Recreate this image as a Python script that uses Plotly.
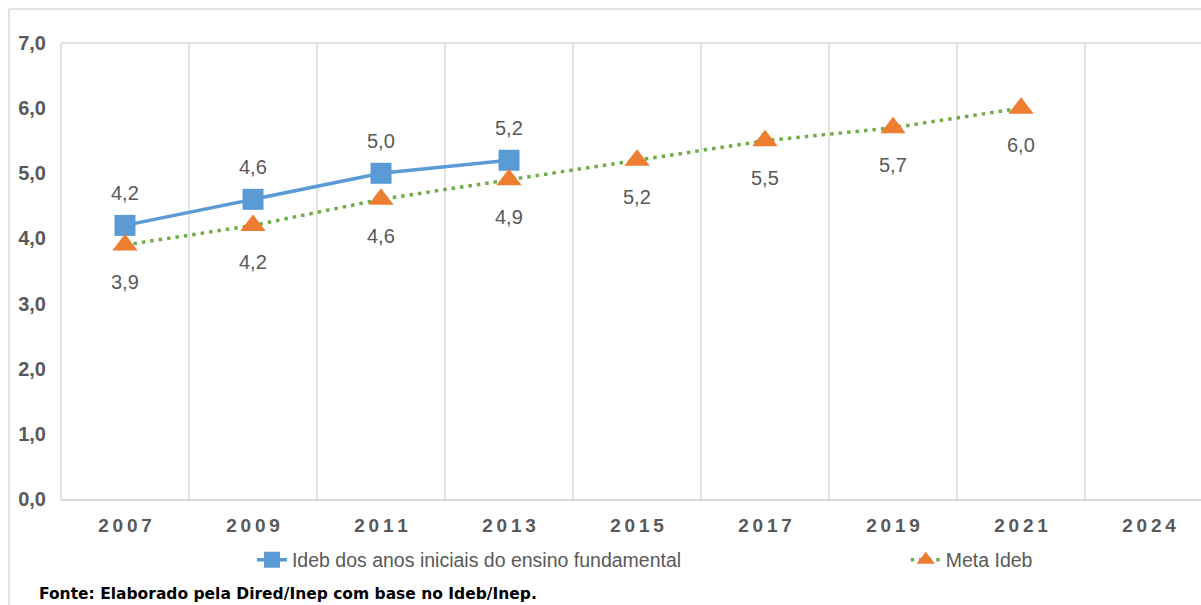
import plotly.graph_objects as go

# ── Data ─────────────────────────────────────────────────────────────────────
anos = ["2007", "2009", "2011", "2013", "2015", "2017", "2019", "2021", "2024"]
ideb_anos = ["2007", "2009", "2011", "2013"]
ideb_vals = [4.2, 4.6, 5.0, 5.2]
meta_anos = ["2007", "2009", "2011", "2013", "2015", "2017", "2019", "2021"]
meta_vals = [3.9, 4.2, 4.6, 4.9, 5.2, 5.5, 5.7, 6.0]
y_ticks = [0, 1, 2, 3, 4, 5, 6, 7]

COLORS = {
    "ideb":  "#5B9BD5",
    "meta_line": "#70AD47",
    "meta_mark": "#ED7D31",
    "text":  "#595959",
    "grid":  "#D9D9D9",
}
FONT = "Liberation Sans, Arial, sans-serif"


def fmt(v):
    return f"{v:.1f}".replace(".", ",")


fig = go.Figure()

fig.add_trace(go.Scatter(
    x=ideb_anos, y=ideb_vals, mode="lines+markers",
    name="Ideb dos anos iniciais do ensino fundamental",
    line=dict(color=COLORS["ideb"], width=3.5),
    marker=dict(symbol="square", size=21, color=COLORS["ideb"]),
    legend="legend",
))
fig.add_trace(go.Scatter(
    x=meta_anos, y=meta_vals, mode="lines+markers",
    name="Meta Ideb",
    line=dict(color=COLORS["meta_line"], width=3.5, dash="3.5px,5px"),
    marker=dict(symbol="triangle-up", size=22, color=COLORS["meta_mark"]),
    legend="legend2",
))

# data labels (category axis -> use category index)
for a, v in zip(ideb_anos, ideb_vals):
    fig.add_annotation(x=anos.index(a), y=v, text=fmt(v), showarrow=False,
                       yshift=32,
                       font=dict(family=FONT, size=20, color=COLORS["text"]))
for a, v in zip(meta_anos, meta_vals):
    fig.add_annotation(x=anos.index(a), y=v, text=fmt(v), showarrow=False,
                       yshift=-37,
                       font=dict(family=FONT, size=20, color=COLORS["text"]))

# source note
fig.add_annotation(
    text="<b>Fonte: Elaborado pela Dired/Inep com base no Ideb/Inep.</b>",
    xref="paper", yref="paper", x=-0.021, y=-0.208,
    xanchor="left", yanchor="middle", showarrow=False,
    font=dict(family="DejaVu Sans, Verdana, sans-serif", size=15.5,
              color="#000000"),
)

border = dict(color=COLORS["grid"], width=1.5)
# vertical gridlines between categories
for i in range(len(anos) - 1):
    fig.add_vline(x=i + 0.5, line=border, layer="below")

# chart area border (left and top edges only; the rest runs off the page)
fig.add_shape(type="line", xref="paper", yref="paper",
              x0=-0.0456, x1=-0.0456, y0=-0.3, y1=1.0746,
              line=border, layer="below")
fig.add_shape(type="line", xref="paper", yref="paper",
              x0=-0.0456, x1=1.0, y0=1.0746, y1=1.0746,
              line=border, layer="below")
# plot area frame: left and top
fig.add_shape(type="line", xref="paper", yref="paper",
              x0=0, x1=0, y0=0, y1=1, line=border, layer="below")
fig.add_shape(type="line", xref="paper", yref="paper",
              x0=0, x1=1, y0=1, y1=1, line=border, layer="below")

legend_common = dict(
    orientation="h", yanchor="middle", xanchor="left", y=-0.134,
    font=dict(family=FONT, size=19.5, color=COLORS["text"]),
    bgcolor="rgba(0,0,0,0)",
)

fig.update_layout(
    width=1201, height=605,
    paper_bgcolor="white", plot_bgcolor="white",
    margin=dict(l=61, r=0, t=43, b=106),
    separators=",.",
    font=dict(family=FONT, color=COLORS["text"]),
    showlegend=True,
    legend=dict(x=0.1675, **legend_common),
    legend2=dict(x=0.741, **legend_common),
)

fig.update_xaxes(
    type="category", categoryorder="array", categoryarray=anos,
    range=[-0.5, 8.406],
    tickmode="array", tickvals=anos,
    ticktext=["\u2009".join(a) for a in anos],
    tickfont=dict(family=FONT, size=19, color=COLORS["text"], weight="bold"),
    ticks="", ticklabelstandoff=8,
    showgrid=False,
    showline=True, linecolor=COLORS["grid"], linewidth=2,
    zeroline=False,
)
fig.update_yaxes(
    range=[0, 7], tickmode="array", tickvals=y_ticks, tickformat=".1f",
    tickfont=dict(family=FONT, size=20, color=COLORS["text"], weight="bold"),
    ticks="", ticklabelstandoff=14,
    showgrid=False, zeroline=False, showline=False,
)

fig.write_html(
    "out.html",
    config={"displayModeBar": False},
    post_script="document.body.style.margin='0';"
                "document.body.style.overflow='hidden';",
)
